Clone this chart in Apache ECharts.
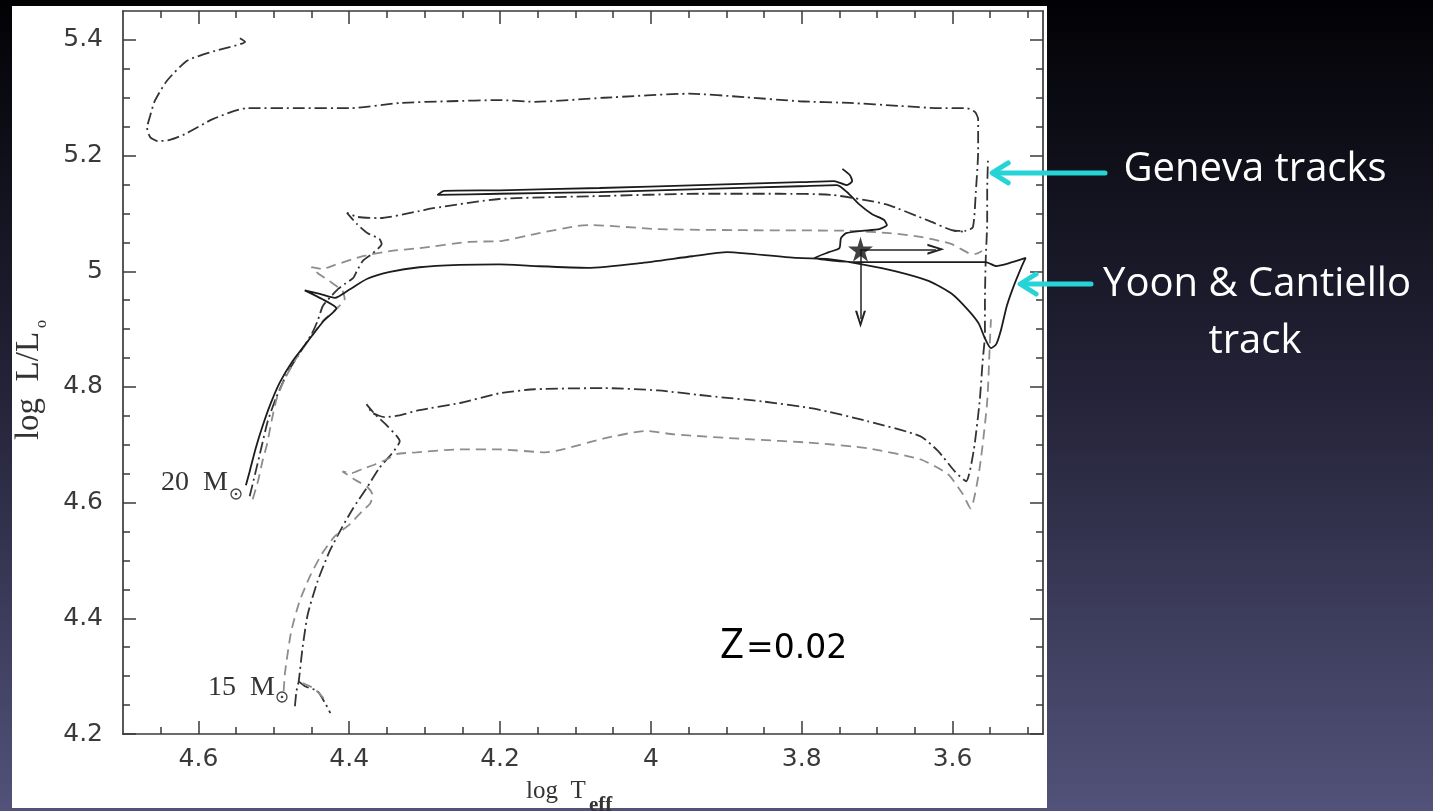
<!DOCTYPE html>
<html>
<head>
<meta charset="utf-8">
<script src="https://cdn.jsdelivr.net/npm/echarts@6/dist/echarts.min.js"></script>
<style>
  html, body { margin: 0; padding: 0; width: 1433px; height: 811px; overflow: hidden; background: #000; }
  #chart { width: 1433px; height: 811px; }
</style>
</head>
<body>
<div id="chart"></div>
<script>
// Axis ticks (log Teff runs right-to-left)
const xMajor = [3.6, 3.8, 4.0, 4.2, 4.4, 4.6];
const xMinor = [3.5, 3.55, 3.65, 3.7, 3.75, 3.85, 3.9, 3.95, 4.05, 4.1, 4.15, 4.25, 4.3, 4.35, 4.45, 4.5, 4.55, 4.65];
const yMajor = [4.2, 4.4, 4.6, 4.8, 5.0, 5.2, 5.4];
const yMinor = [4.25, 4.3, 4.35, 4.45, 4.5, 4.55, 4.65, 4.7, 4.75, 4.85, 4.9, 4.95, 5.05, 5.1, 5.15, 5.25, 5.3, 5.35];

// Tracks: [log Teff, log L/Lsun]
const topTrack = [
  [4.545, 5.403], [4.538, 5.397], [4.578, 5.381], [4.615, 5.364], [4.642, 5.329], [4.658, 5.294], [4.664, 5.269],
  [4.668, 5.248], [4.664, 5.232], [4.654, 5.225], [4.638, 5.227], [4.618, 5.237], [4.581, 5.263],
  [4.536, 5.282], [4.466, 5.282], [4.399, 5.282], [4.333, 5.291], [4.267, 5.294], [4.201, 5.296],
  [4.154, 5.293], [4.062, 5.300], [3.949, 5.307], [3.875, 5.301], [3.803, 5.294], [3.736, 5.291],
  [3.671, 5.286], [3.618, 5.282], [3.581, 5.282], [3.570, 5.275], [3.566, 5.263], [3.566, 5.208],
  [3.569, 5.139], [3.573, 5.076], [3.583, 5.070], [3.598, 5.070]
];

const geneva20 = [
  [4.532, 4.611], [4.524, 4.654], [4.516, 4.698], [4.508, 4.741], [4.497, 4.781], [4.483, 4.822],
  [4.466, 4.858], [4.450, 4.891], [4.442, 4.914], [4.435, 4.940], [4.426, 4.954], [4.415, 4.969],
  [4.406, 4.978], [4.395, 4.988], [4.390, 5.000], [4.382, 5.018], [4.369, 5.031], [4.357, 5.047],
  [4.360, 5.056], [4.376, 5.066], [4.390, 5.082], [4.403, 5.101], [4.389, 5.094], [4.360, 5.092],
  [4.307, 5.104], [4.289, 5.109], [4.201, 5.125], [4.068, 5.130], [3.936, 5.134], [3.830, 5.134],
  [3.760, 5.132], [3.689, 5.116], [3.631, 5.087], [3.601, 5.071], [3.582, 5.068]
];

const geneva20Rot = [
  [4.528, 4.606], [4.521, 4.637], [4.515, 4.672], [4.509, 4.701], [4.503, 4.741], [4.496, 4.781],
  [4.485, 4.815], [4.470, 4.850], [4.452, 4.884], [4.435, 4.914], [4.417, 4.935], [4.406, 4.952],
  [4.409, 4.966], [4.426, 4.983], [4.442, 4.997], [4.450, 5.007], [4.436, 5.004], [4.419, 5.011],
  [4.382, 5.026], [4.346, 5.035], [4.307, 5.040], [4.240, 5.051], [4.201, 5.052], [4.148, 5.066],
  [4.099, 5.078], [4.080, 5.080], [3.991, 5.073], [3.875, 5.071], [3.736, 5.070], [3.684, 5.066],
  [3.640, 5.059], [3.601, 5.047], [3.578, 5.031], [3.569, 5.030], [3.561, 5.035]
];

const geneva15 = [
  [4.472, 4.248], [4.470, 4.274], [4.467, 4.291], [4.462, 4.348], [4.455, 4.407], [4.442, 4.464],
  [4.426, 4.516], [4.410, 4.556], [4.395, 4.590], [4.377, 4.625], [4.360, 4.660], [4.344, 4.684],
  [4.333, 4.706], [4.349, 4.732], [4.366, 4.753], [4.377, 4.770], [4.369, 4.755], [4.353, 4.748],
  [4.333, 4.751], [4.307, 4.760], [4.254, 4.772], [4.201, 4.789], [4.154, 4.796], [4.062, 4.798],
  [3.991, 4.794], [3.921, 4.784], [3.852, 4.775], [3.782, 4.762], [3.713, 4.741], [3.643, 4.715],
  [3.619, 4.689], [3.597, 4.654], [3.582, 4.637], [3.572, 4.689], [3.564, 4.775], [3.560, 4.845],
  [3.557, 4.891], [3.557, 4.948], [3.556, 5.018], [3.554, 5.087], [3.554, 5.139], [3.553, 5.191]
];
const geneva15Tail = [[4.467, 4.291], [4.458, 4.282], [4.442, 4.274], [4.431, 4.251], [4.425, 4.236]];

const geneva15Rot = [
  [4.487, 4.274], [4.485, 4.308], [4.477, 4.377], [4.466, 4.429], [4.452, 4.473], [4.436, 4.512],
  [4.419, 4.542], [4.399, 4.563], [4.383, 4.585], [4.372, 4.599], [4.369, 4.613], [4.376, 4.627],
  [4.393, 4.640], [4.409, 4.654], [4.397, 4.651], [4.383, 4.658], [4.366, 4.666], [4.350, 4.675],
  [4.337, 4.684], [4.311, 4.687], [4.254, 4.692], [4.201, 4.692], [4.140, 4.687], [4.117, 4.692],
  [4.062, 4.711], [4.006, 4.724], [3.969, 4.718], [3.875, 4.710], [3.782, 4.703], [3.713, 4.694],
  [3.643, 4.675], [3.606, 4.649], [3.587, 4.616], [3.576, 4.590], [3.564, 4.660], [3.554, 4.775],
  [3.550, 4.891], [3.549, 4.917]
];
const geneva15RotTail = [[4.462, 4.288], [4.447, 4.279], [4.434, 4.262]];

const yoonCantiello = [
  [4.537, 4.630], [4.532, 4.654], [4.524, 4.694], [4.515, 4.732], [4.504, 4.772], [4.492, 4.808],
  [4.475, 4.845], [4.455, 4.879], [4.434, 4.914], [4.417, 4.936], [4.436, 4.952], [4.459, 4.967],
  [4.439, 4.961], [4.419, 4.954], [4.399, 4.969], [4.376, 4.987], [4.346, 4.999], [4.307, 5.007],
  [4.254, 5.011], [4.201, 5.012], [4.154, 5.009], [4.084, 5.006], [4.015, 5.014], [3.945, 5.026],
  [3.899, 5.033], [3.875, 5.031], [3.806, 5.023], [3.764, 5.021], [3.720, 5.012], [3.675, 5.000],
  [3.631, 4.983], [3.601, 4.961], [3.578, 4.931], [3.565, 4.909], [3.557, 4.884], [3.549, 4.867],
  [3.542, 4.874], [3.536, 4.897], [3.528, 4.940], [3.519, 4.974], [3.509, 5.006], [3.503, 5.023],
  [3.525, 5.014], [3.542, 5.009], [3.556, 5.016], [3.631, 5.016], [3.728, 5.016], [3.783, 5.023],
  [3.764, 5.033], [3.750, 5.040], [3.748, 5.057], [3.741, 5.066], [3.720, 5.070], [3.697, 5.073],
  [3.687, 5.080], [3.691, 5.089], [3.707, 5.099], [3.724, 5.116], [3.740, 5.137], [3.753, 5.149],
  [3.803, 5.147], [3.936, 5.142], [4.068, 5.137], [4.201, 5.134], [4.283, 5.132], [4.274, 5.139],
  [4.201, 5.140], [4.068, 5.144], [3.936, 5.149], [3.803, 5.154], [3.757, 5.156], [3.740, 5.149],
  [3.733, 5.156], [3.736, 5.166], [3.746, 5.177]
];

// Observed progenitor with upper limits
const progenitor = [3.722, 5.038];
const limitTeff = 3.622;
const limitL = 4.917;

// Annotation anchors on the tracks
const genevaTip = [3.550, 5.170];
const yoonTip = [3.513, 4.978];

const INK = '#3a3a3a';
const dashDot = { color: '#333333', width: 1.8, type: [12, 4, 2, 4] };
const dashed = { color: '#8d8d8d', width: 1.8, type: [10, 6] };
const solid = { color: '#1c1c1c', width: 1.8, type: 'solid' };

function track(name, data, style) {
  return {
    name, type: 'line', data, xAxisIndex: 0, yAxisIndex: 0,
    showSymbol: false, symbol: 'none', smooth: 0.2, silent: true,
    lineStyle: style, z: 5
  };
}

function axisSet(kind, position, ticks, len, primary) {
  const base = {
    type: 'value', position,
    splitLine: { show: false },
    axisLine: { show: primary, onZero: false, lineStyle: { color: INK, width: 1.7 } },
    axisTick: { show: true, inside: true, length: len, customValues: ticks, lineStyle: { color: INK, width: 1.5 } },
    axisLabel: { show: false }
  };
  if (kind === 'x') { Object.assign(base, { min: 3.48, max: 4.7, inverse: true }); }
  else { Object.assign(base, { min: 4.2, max: 5.45 }); }
  return base;
}

const fmt = v => String(+(+v).toFixed(1));

const xMain = axisSet('x', 'bottom', xMajor, 13, true);
xMain.axisLabel = {
  show: true, customValues: xMajor, formatter: fmt, margin: 13,
  fontFamily: 'DejaVu Sans', fontSize: 25, color: '#3a3a3a'
};
const yMain = axisSet('y', 'left', yMajor, 13, true);
yMain.axisLabel = {
  show: true, customValues: yMajor, formatter: fmt, margin: 20,
  fontFamily: 'DejaVu Sans', fontSize: 25, color: '#3a3a3a'
};

const chart = echarts.init(document.getElementById('chart'), null, { renderer: 'canvas' });

const option = {
  animation: false,
  backgroundColor: {
    type: 'linear', x: 0, y: 0, x2: 0, y2: 1,
    colorStops: [{ offset: 0, color: '#020205' }, { offset: 0.5, color: '#25243a' }, { offset: 1, color: '#52527a' }]
  },
  grid: { left: 123, right: 390, top: 11, bottom: 77 },
  xAxis: [
    xMain,
    axisSet('x', 'bottom', xMinor, 7, false),
    axisSet('x', 'top', xMajor, 13, true),
    axisSet('x', 'top', xMinor, 7, false)
  ],
  yAxis: [
    yMain,
    axisSet('y', 'left', yMinor, 7, false),
    axisSet('y', 'right', yMajor, 13, true),
    axisSet('y', 'right', yMinor, 7, false)
  ],
  series: [
    track('top', topTrack, dashDot),
    track('Geneva 20', geneva20, dashDot),
    track('Geneva 20 rot', geneva20Rot, dashed),
    track('Geneva 15', geneva15, dashDot),
    track('Geneva 15 tail', geneva15Tail, dashDot),
    track('Geneva 15 rot', geneva15Rot, dashed),
    track('Geneva 15 rot tail', geneva15RotTail, dashed),
    track('Yoon & Cantiello', yoonCantiello, solid),
    {
      name: 'progenitor', type: 'scatter', data: [progenitor], xAxisIndex: 0, yAxisIndex: 0,
      symbol: 'path://M50,0 L61,35 L98,35 L68,57 L79,91 L50,70 L21,91 L32,57 L2,35 L39,35 Z',
      symbolSize: 25, itemStyle: { color: '#111' }, z: 8, silent: true,
      markLine: {
        silent: true, animation: false,
        symbol: ['none', 'path://M0,20 L10,0 L20,20 L16,20 L10,7 L4,20 Z'],
        symbolSize: [11, 17],
        label: { show: false },
        lineStyle: { color: '#222', width: 1.5, type: 'solid' },
        data: [
          [{ coord: progenitor }, { coord: [limitTeff, progenitor[1]] }],
          [{ coord: progenitor }, { coord: [progenitor[0], limitL] }]
        ]
      }
    }
  ],
  graphic: []
};

chart.setOption(option);

// Slide panel, labels and annotation arrows
function arrow(tip, tailX) {
  const [tx, ty] = chart.convertToPixel({ xAxisIndex: 0, yAxisIndex: 0 }, tip);
  const st = { stroke: '#26d3d6', lineWidth: 5, lineCap: 'round', lineJoin: 'round', fill: null };
  return [
    { type: 'line', shape: { x1: tx + 3, y1: ty, x2: tailX, y2: ty }, style: st, z: 50 },
    { type: 'polyline', shape: { points: [[tx + 18, ty - 10], [tx + 2, ty], [tx + 18, ty + 10]] }, style: st, z: 50 }
  ];
}

function sunSymbol(cx, cy) {
  return [
    { type: 'circle', shape: { cx, cy, r: 5 }, style: { stroke: '#444', lineWidth: 1.3, fill: null }, z: 20 },
    { type: 'circle', shape: { cx, cy, r: 1.3 }, style: { fill: '#444' }, z: 20 }
  ];
}

const serif = 'Liberation Serif';
const graphics = [
  { type: 'rect', shape: { x: 12, y: 6, width: 1035, height: 802 }, style: { fill: '#ffffff' }, z: -100, silent: true },
  // axis titles
  { type: 'text', x: 526, y: 804, style: { text: 'log  T', font: '25px "' + serif + '"', fill: '#333', verticalAlign: 'bottom' }, z: 20 },
  { type: 'text', x: 589, y: 816, style: { text: 'eff', font: 'bold 21px "' + serif + '"', fill: '#333', verticalAlign: 'bottom' }, z: 20 },
  { type: 'text', x: 29, y: 386, rotation: Math.PI / 2, style: { text: 'log  L/L', font: '33px "' + serif + '"', fill: '#333', align: 'center', verticalAlign: 'middle' }, z: 20 },
  { type: 'text', x: 42, y: 324, rotation: Math.PI / 2, style: { text: 'o', font: '16px "' + serif + '"', fill: '#333', align: 'center', verticalAlign: 'middle' }, z: 20 },
  // mass labels
  { type: 'text', x: 161, y: 497, style: { text: '20  M', font: '28px "' + serif + '"', fill: '#333', verticalAlign: 'bottom' }, z: 20 },
  ...sunSymbol(236, 494),
  { type: 'text', x: 208, y: 702, style: { text: '15  M', font: '28px "' + serif + '"', fill: '#333', verticalAlign: 'bottom' }, z: 20 },
  ...sunSymbol(282, 697),
  // metallicity
  { type: 'text', x: 720, y: 667, style: { text: 'Z', font: '42px "Open Sans"', fill: '#000', verticalAlign: 'bottom' }, z: 20 },
  { type: 'text', x: 746, y: 666, style: { text: '=0.02', font: '33px "DejaVu Sans"', fill: '#000', verticalAlign: 'bottom' }, z: 20 },
  // slide annotations
  { type: 'text', x: 1255, y: 170, style: { text: 'Geneva tracks', font: '40px "Open Sans"', fill: '#fff', align: 'center', verticalAlign: 'middle' }, z: 20 },
  { type: 'text', x: 1257, y: 285, style: { text: 'Yoon & Cantiello', font: '40px "Open Sans"', fill: '#fff', align: 'center', verticalAlign: 'middle' }, z: 20 },
  { type: 'text', x: 1255, y: 342, style: { text: 'track', font: '40px "Open Sans"', fill: '#fff', align: 'center', verticalAlign: 'middle' }, z: 20 },
  ...arrow(genevaTip, 1105),
  ...arrow(yoonTip, 1091)
];

chart.setOption({ graphic: graphics });
</script>
</body>
</html>
